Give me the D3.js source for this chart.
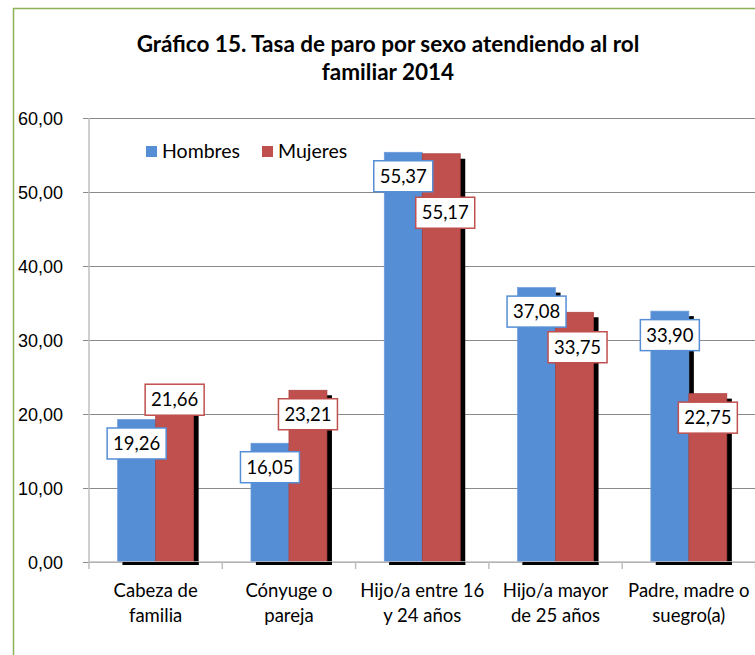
<!DOCTYPE html>
<html>
<head>
<meta charset="utf-8">
<script src="https://cdn.jsdelivr.net/npm/d3@7"></script>
<style>
  body { margin: 0; background: #fff; }
  svg { display: block; font-family: Lato, "Open Sans", sans-serif; }
  .grid line { stroke: #8a8a8a; }
  .grid path { display: none; }
  .grid text { font-size: 18px; fill: #000; }
</style>
</head>
<body>
<div class="chart-area"></div>
<script>
// data
var categories = ["Cabeza de|familia", "Cónyuge o|pareja", "Hijo/a entre 16|y 24 años", "Hijo/a mayor|de 25 años", "Padre, madre o|suegro(a)"];
var series = ["Hombres", "Mujeres"];
var hombres = [19.26, 16.05, 55.37, 37.08, 33.90];
var mujeres = [21.66, 23.21, 55.17, 33.75, 22.75];
var yTicks = [0, 10, 20, 30, 40, 50, 60];
var titleLines = ["Gráfico 15. Tasa de paro por sexo atendiendo al rol", "familiar 2014"];

var colors = { Hombres: "#558ed5", Mujeres: "#c0504d" };

var W = 755, H = 655;
var margin = {top: 118, left: 89, bottom: 93};
var plotW = 5 * 133.3, plotH = H - margin.top - margin.bottom;

var svg = d3.select(".chart-area").append("svg")
	.attr("width", W)
	.attr("height", H);

// outer chart border (green)
svg.append("path")
	.attr("d", "M13.5," + H + "V8.5H" + W)
	.attr("fill", "none")
	.attr("stroke", "#8db255")
	.attr("stroke-width", 1.5);

// title
svg.append("g").selectAll("text")
	.data(titleLines)
	.enter().append("text")
	.attr("x", 388)
	.attr("y", function(d, i) { return 52 + i * 28; })
	.attr("text-anchor", "middle")
	.style("font-size", "22.5px")
	.style("font-weight", "bold")
	.text(function(d) { return d; });

var g = svg.append("g")
	.attr("transform", "translate(" + margin.left + "," + margin.top + ")");

var x = d3.scaleBand()
	.domain(categories)
	.range([0, plotW])
	.paddingInner(0.43)
	.paddingOuter(0.215);

var x1 = d3.scaleBand()
	.domain(series)
	.range([0, x.bandwidth()]);

var y = d3.scaleLinear()
	.domain([0, 60])
	.range([plotH, 0]);

var fmt = function(v) { return d3.format(".2f")(v).replace(".", ","); };

// gridlines + y labels
var yAxis = g.append("g")
	.attr("class", "grid")
	.call(d3.axisLeft(y).tickValues(yTicks).tickSize(-(plotW + 6)).tickPadding(26).tickFormat(fmt));
yAxis.selectAll(".tick line").attr("x1", -6).attr("x2", plotW);
yAxis.selectAll(".tick text").attr("dy", "0.35em");

// vertical axis line
g.append("line")
	.attr("x1", 0).attr("x2", 0)
	.attr("y1", 0).attr("y2", plotH)
	.attr("stroke", "#bfbfbf")
	.attr("stroke-width", 1.5);

var rows = categories.map(function(c, i) {
	return [{cat: c, s: "Hombres", v: hombres[i], i: i}, {cat: c, s: "Mujeres", v: mujeres[i], i: i}];
});
var points = d3.merge(rows);

// black shadow behind the bars
g.append("g").selectAll("rect")
	.data(points)
	.enter().append("rect")
	.attr("x", function(d) { return x(d.cat) + x1(d.s) + 5; })
	.attr("y", function(d) { return y(d.v) + 5; })
	.attr("width", x1.bandwidth())
	.attr("height", function(d) { return plotH - y(d.v) - 2; })
	.attr("fill", "#000");

// bars
g.append("g").selectAll("rect")
	.data(points)
	.enter().append("rect")
	.attr("x", function(d) { return x(d.cat) + x1(d.s); })
	.attr("y", function(d) { return y(d.v); })
	.attr("width", x1.bandwidth())
	.attr("height", function(d) { return plotH - y(d.v); })
	.attr("fill", function(d) { return colors[d.s]; })
	.attr("stroke", function(d) { return d.s == "Hombres" ? "#6a9bdc" : "#a8403d"; })
	.attr("stroke-width", 0.7);

// bottom axis line with ticks between categories
var step = x.step();
var edge0 = x(categories[0]) - (step - x.bandwidth()) / 2;
g.append("line")
	.attr("x1", 0).attr("x2", plotW)
	.attr("y1", plotH).attr("y2", plotH)
	.attr("stroke", "#bfbfbf")
	.attr("stroke-width", 1.5);
g.append("g").selectAll("line")
	.data(d3.range(categories.length + 1))
	.enter().append("line")
	.attr("x1", function(i) { return edge0 + i * step; })
	.attr("x2", function(i) { return edge0 + i * step; })
	.attr("y1", plotH).attr("y2", plotH + 7)
	.attr("stroke", "#bfbfbf")
	.attr("stroke-width", 1.5);

// shadow strip that sits over the axis line
g.append("g").selectAll("rect")
	.data(rows)
	.enter().append("rect")
	.attr("x", function(d) { return x(d[0].cat) + 5; })
	.attr("y", plotH)
	.attr("width", x.bandwidth())
	.attr("height", 3)
	.attr("fill", "#000");

// category labels
var catLabels = g.append("g").selectAll("text")
	.data(categories)
	.enter().append("text")
	.attr("x", function(d) { return x(d) + x.bandwidth() / 2; })
	.attr("y", plotH + 35)
	.attr("text-anchor", "middle")
	.style("font-size", "18.5px");
catLabels.selectAll("tspan")
	.data(function(d) { return d.split("|"); })
	.enter().append("tspan")
	.attr("x", function() { return this.parentNode.getAttribute("x"); })
	.attr("dy", function(d, i) { return i ? 25 : 0; })
	.text(function(d) { return d; });

// data labels (Excel moved a few of them by hand)
var nudge = {"0-Mujeres": [0, -26], "2-Mujeres": [4, 35], "3-Mujeres": [3, 11]};
var lab = g.append("g").selectAll("g")
	.data(points)
	.enter().append("g")
	.attr("transform", function(d) {
		var n = nudge[d.i + "-" + d.s] || [0, 0];
		var cx = x(d.cat) + x1(d.s) + x1.bandwidth() / 2 + n[0];
		var cy = y(d.v) + 24 + n[1];
		return "translate(" + cx + "," + cy + ")";
	});
lab.append("rect")
	.attr("x", -29.5).attr("y", -15.5)
	.attr("width", 59).attr("height", 31)
	.attr("fill", "#fff")
	.attr("stroke", function(d) { return colors[d.s]; })
	.attr("stroke-width", 1.5);
lab.append("text")
	.attr("text-anchor", "middle")
	.attr("dy", "0.35em")
	.style("font-size", "18.5px")
	.text(function(d) { return fmt(d.v); });

// legend
var leg = g.append("g")
	.attr("transform", "translate(57,28)")
	.selectAll("g")
	.data(series)
	.enter().append("g")
	.attr("transform", function(d, i) { return "translate(" + (i * 116) + ",0)"; });
leg.append("rect")
	.attr("width", 11).attr("height", 11)
	.attr("fill", function(d) { return colors[d]; });
leg.append("text")
	.attr("x", 16).attr("y", 11.5)
	.style("font-size", "19.5px")
	.text(function(d) { return d; });
</script>
</body>
</html>
